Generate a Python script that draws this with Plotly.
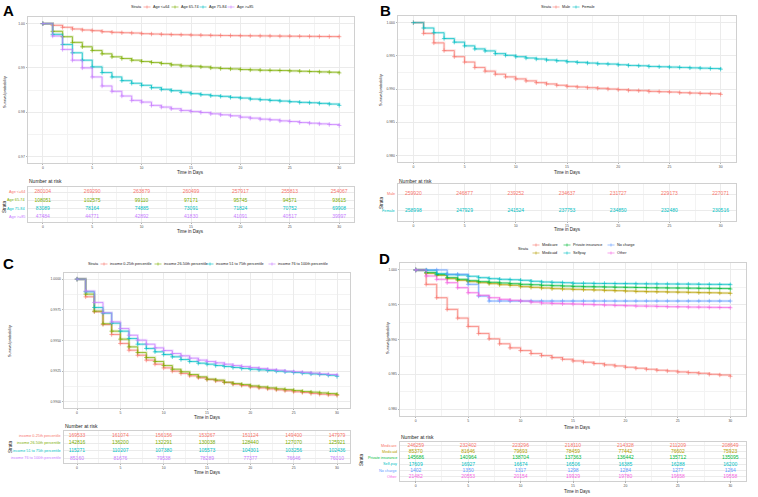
import plotly.graph_objects as go

W, H = 758, 497
days = list(range(31))
risk_days = [0, 5, 10, 15, 20, 25, 30]

# ---------------- Panel A : age ----------------
a_labels = ["Age <=64", "Age 65-74", "Age 75-84", "Age >=85"]
a_le64 = [1.0, 0.99962, 0.99917, 0.99879, 0.99856, 0.99841, 0.99818, 0.99803, 0.99795, 0.99788, 0.99773,
          0.99765, 0.99758, 0.99752, 0.99748, 0.99742, 0.99739, 0.99735, 0.99732, 0.99730, 0.99727,
          0.99725, 0.99723, 0.99720, 0.99718, 0.99716, 0.99714, 0.99712, 0.99710, 0.99708, 0.99705]
a_65_74 = [1.0, 0.99826, 0.99705, 0.99576, 0.99477, 0.99394, 0.99318, 0.99250, 0.99212, 0.99174, 0.99144,
           0.99121, 0.99098, 0.99068, 0.99045, 0.99038, 0.99023, 0.99000, 0.98985, 0.98977, 0.98962,
           0.98955, 0.98947, 0.98944, 0.98940, 0.98932, 0.98924, 0.98917, 0.98909, 0.98902, 0.98886]
a_75_84 = [1.0, 0.99758, 0.99530, 0.99341, 0.99174, 0.99023, 0.98894, 0.98795, 0.98712, 0.98652, 0.98606,
           0.98553, 0.98515, 0.98485, 0.98447, 0.98417, 0.98394, 0.98371, 0.98356, 0.98333, 0.98318,
           0.98295, 0.98280, 0.98265, 0.98250, 0.98235, 0.98220, 0.98212, 0.98197, 0.98182, 0.98152]
a_ge85 = [1.0, 0.99720, 0.99417, 0.99174, 0.99000, 0.98795, 0.98591, 0.98470, 0.98364, 0.98265, 0.98227,
          0.98152, 0.98114, 0.98076, 0.98038, 0.98015, 0.97992, 0.97962, 0.97939, 0.97917, 0.97886,
          0.97864, 0.97841, 0.97826, 0.97803, 0.97788, 0.97765, 0.97750, 0.97735, 0.97720, 0.97697]
a_risk_le64 = [280104, 269290, 263879, 260499, 257917, 255813, 254067]
a_risk_65_74 = [108051, 102575, 99110, 97171, 95745, 94571, 93615]
a_risk_75_84 = [83089, 78164, 74885, 73091, 71824, 70752, 69908]
a_risk_ge85 = [47484, 44771, 42892, 41830, 41091, 40517, 39997]
a_yticks = [0.97, 0.98, 0.99, 1.00]
a_yticktext = ["0.97", "0.98", "0.99", "1.00"]

# ---------------- Panel B : sex ----------------
b_labels = ["Male", "Female"]
b_male = [1.0, 0.99838, 0.99695, 0.99579, 0.99487, 0.99406, 0.99325, 0.99269, 0.99223, 0.99183, 0.99152,
          0.99122, 0.99096, 0.99076, 0.99056, 0.99040, 0.99030, 0.99020, 0.99010, 0.99000, 0.98990,
          0.98980, 0.98975, 0.98964, 0.98959, 0.98954, 0.98944, 0.98939, 0.98934, 0.98929, 0.98919]
b_female = [1.0, 0.99919, 0.99848, 0.99761, 0.99706, 0.99650, 0.99604, 0.99574, 0.99533, 0.99508, 0.99487,
            0.99467, 0.99452, 0.99437, 0.99426, 0.99411, 0.99401, 0.99391, 0.99380, 0.99376, 0.99365,
            0.99355, 0.99350, 0.99340, 0.99335, 0.99330, 0.99325, 0.99319, 0.99314, 0.99309, 0.99299]
b_risk_male = [259920, 246877, 239252, 234637, 231727, 229173, 227071]
b_risk_female = [258998, 247929, 241524, 237753, 234850, 232480, 230516]
b_yticks = [0.980, 0.985, 0.990, 0.995, 1.000]
b_yticktext = ["0.980", "0.985", "0.990", "0.995", "1.000"]

# ---------------- Panel C : income ----------------
c_labels = ["income 0-25th percentile", "income 26-50th percentile",
            "income 51 to 75th percentile", "income 76 to 100th percentile"]
c_q1 = [1.0, 0.99856, 0.99734, 0.99630, 0.99549, 0.99476, 0.99421, 0.99380, 0.99340, 0.99307, 0.99277,
        0.99250, 0.99231, 0.99212, 0.99196, 0.99182, 0.99171, 0.99158, 0.99144, 0.99133, 0.99122,
        0.99114, 0.99106, 0.99098, 0.99090, 0.99082, 0.99076, 0.99068, 0.99062, 0.99057, 0.99052]
c_q2 = [1.0, 0.99878, 0.99739, 0.99636, 0.99576, 0.99511, 0.99448, 0.99402, 0.99361, 0.99329, 0.99296,
        0.99266, 0.99245, 0.99223, 0.99204, 0.99185, 0.99177, 0.99160, 0.99149, 0.99141, 0.99130,
        0.99122, 0.99114, 0.99106, 0.99100, 0.99092, 0.99084, 0.99079, 0.99073, 0.99068, 0.99060]
c_q3 = [1.0, 0.99897, 0.99769, 0.99723, 0.99641, 0.99576, 0.99516, 0.99470, 0.99435, 0.99408, 0.99386,
        0.99367, 0.99345, 0.99329, 0.99315, 0.99307, 0.99296, 0.99288, 0.99280, 0.99272, 0.99266,
        0.99261, 0.99255, 0.99250, 0.99245, 0.99239, 0.99234, 0.99228, 0.99223, 0.99217, 0.99207]
c_q4 = [1.0, 0.99902, 0.99810, 0.99726, 0.99652, 0.99598, 0.99543, 0.99503, 0.99470, 0.99440, 0.99418,
        0.99394, 0.99375, 0.99356, 0.99340, 0.99329, 0.99318, 0.99307, 0.99296, 0.99288, 0.99280,
        0.99272, 0.99264, 0.99258, 0.99250, 0.99245, 0.99240, 0.99234, 0.99228, 0.99223, 0.99217]
c_risk_q1 = [169533, 161074, 156156, 153267, 151124, 149400, 147979]
c_risk_q2 = [142816, 136200, 132291, 130038, 128440, 127070, 125921]
c_risk_q3 = [115271, 110207, 107380, 105573, 104301, 103256, 102436]
c_risk_q4 = [85160, 81676, 79538, 78289, 77377, 76646, 76010]
c_yticks = [0.9900, 0.9925, 0.9950, 0.9975, 1.0000]
c_yticktext = ["0.9900", "0.9925", "0.9950", "0.9975", "1.0000"]

# ---------------- Panel D : payer ----------------
d_labels = ["Medicare", "Medicaid", "Private insurance", "Selfpay", "No charge", "Other"]
d_table_labels = ["Medicare", "Medicaid", "Private insurance", "Self-pay", "No charge", "Other"]
d_medicare = [1.0, 0.99793, 0.99601, 0.99433, 0.99308, 0.99188, 0.99087, 0.99010, 0.98938, 0.98880, 0.98841,
              0.98798, 0.98769, 0.98740, 0.98716, 0.98692, 0.98673, 0.98654, 0.98635, 0.98620, 0.98601,
              0.98587, 0.98572, 0.98558, 0.98548, 0.98534, 0.98524, 0.98514, 0.98500, 0.98490, 0.98471]
d_medicaid = [1.0, 0.99952, 0.99923, 0.99875, 0.99851, 0.99832, 0.99817, 0.99803, 0.99788, 0.99779, 0.99760,
              0.99750, 0.99740, 0.99731, 0.99726, 0.99721, 0.99716, 0.99712, 0.99707, 0.99702, 0.99697,
              0.99692, 0.99688, 0.99686, 0.99683, 0.99681, 0.99678, 0.99674, 0.99672, 0.99668, 0.99663]
d_private = [1.0, 0.99962, 0.99933, 0.99889, 0.99865, 0.99846, 0.99832, 0.99822, 0.99813, 0.99803, 0.99793,
             0.99788, 0.99779, 0.99774, 0.99769, 0.99764, 0.99760, 0.99758, 0.99755, 0.99752, 0.99750,
             0.99748, 0.99745, 0.99743, 0.99741, 0.99740, 0.99738, 0.99736, 0.99735, 0.99733, 0.99726]
d_selfpay = [1.0, 0.99995, 0.99947, 0.99933, 0.99928, 0.99909, 0.99889, 0.99875, 0.99865, 0.99860, 0.99851,
             0.99837, 0.99827, 0.99822, 0.99817, 0.99808, 0.99808, 0.99806, 0.99806, 0.99804, 0.99803,
             0.99801, 0.99800, 0.99799, 0.99798, 0.99797, 0.99796, 0.99794, 0.99793, 0.99792, 0.99788]
d_nocharge = [1.0, 1.0, 1.0, 0.99938, 0.99938, 0.99793, 0.99625, 0.99553, 0.99553, 0.99553, 0.99553,
              0.99553, 0.99553, 0.99553, 0.99553, 0.99553, 0.99553, 0.99553, 0.99553, 0.99553, 0.99553,
              0.99553, 0.99553, 0.99553, 0.99553, 0.99553, 0.99553, 0.99553, 0.99553, 0.99553, 0.99553]
d_other = [1.0, 0.99913, 0.99865, 0.99817, 0.99745, 0.99673, 0.99635, 0.99601, 0.99577, 0.99563, 0.99553,
           0.99538, 0.99524, 0.99519, 0.99514, 0.99510, 0.99505, 0.99500, 0.99495, 0.99490, 0.99486,
           0.99481, 0.99480, 0.99476, 0.99471, 0.99470, 0.99466, 0.99465, 0.99462, 0.99461, 0.99457]
d_risk_medicare = [246259, 232402, 223296, 218110, 214328, 211209, 208649]
d_risk_medicaid = [85370, 81646, 79693, 78459, 77442, 76602, 75923]
d_risk_private = [145686, 140964, 138704, 137363, 136442, 135712, 135095]
d_risk_selfpay = [17609, 16927, 16674, 16506, 16385, 16288, 16200]
d_risk_nocharge = [1402, 1350, 1317, 1298, 1284, 1277, 1264]
d_risk_other = [21482, 20553, 20154, 19929, 19780, 19658, 19558]
d_yticks = [0.980, 0.985, 0.990, 0.995, 1.000]
d_yticktext = ["0.980", "0.985", "0.990", "0.995", "1.000"]

PAL4 = ["#F8766D", "#7CAE00", "#00BFC4", "#C77CFF"]
PAL2 = ["#F8766D", "#00BFC4"]
PAL6 = ["#F8766D", "#B79F00", "#00BA38", "#00BFC4", "#619CFF", "#F564E3"]

FONT = "Liberation Sans, Arial, sans-serif"
GRID = "#EBEBEB"
MINOR = "#F3F3F3"
BORDER = "#D0D0D0"
TICKC = "#4D4D4D"


def rgba(hexc, a):
    h = hexc.lstrip("#")
    return "rgba(%d,%d,%d,%.2f)" % (int(h[0:2], 16), int(h[2:4], 16), int(h[4:6], 16), a)


fig = go.Figure()
layout = {}
shapes = []
annotations = []


def ref(n, axis):
    return axis if n == 1 else f"{axis}{n}"


def lname(n, axis):
    return f"{axis}axis" if n == 1 else f"{axis}axis{n}"


def text(x, y, s, size, color="#000000", xanchor="center", yanchor="middle", angle=0, bold=False):
    annotations.append(dict(x=x / W, y=1 - y / H, xref="paper", yref="paper", text=("<b>%s</b>" % s) if bold else s,
                            showarrow=False, xanchor=xanchor, yanchor=yanchor, textangle=angle,
                            borderpad=0, font=dict(size=size, color=color, family=FONT)))


def legend_entry(xc, yc, color, label, size=3.8):
    shapes.append(dict(type="line", xref="paper", yref="paper", x0=(xc - 3.5) / W, x1=(xc + 3.5) / W,
                       y0=1 - yc / H, y1=1 - yc / H, line=dict(color=color, width=0.6)))
    shapes.append(dict(type="line", xref="paper", yref="paper", x0=xc / W, x1=xc / W,
                       y0=1 - (yc - 1.5) / H, y1=1 - (yc + 1.5) / H, line=dict(color=color, width=0.6)))
    text(xc + 5, yc, label, size, color="#1A1A1A", xanchor="left")


def x_axis(dom, anchor_n):
    return dict(domain=[dom[0] / W, dom[1] / W], anchor=ref(anchor_n, "y"), range=[-1.5, 31.5],
                tickmode="array", tickvals=risk_days, ticktext=[str(v) for v in risk_days],
                showgrid=True, gridcolor=GRID, gridwidth=0.8,
                minor=dict(tickmode="array", tickvals=[2.5, 7.5, 12.5, 17.5, 22.5, 27.5],
                           showgrid=True, gridcolor=MINOR, gridwidth=0.6, ticks=""),
                ticks="outside", ticklen=1.5, tickwidth=0.6, tickcolor="#B3B3B3",
                tickfont=dict(size=3.4, color=TICKC, family=FONT),
                showline=True, mirror=True, linecolor=BORDER, linewidth=0.8, zeroline=False)


def add_panel(k, plot_box, table_box, series, labels, colors, yrange, yticks, yticktext, risk, row_labels,
              label_right):
    pn, tn = 2 * k + 1, 2 * k + 2
    layout[lname(pn, "x")] = x_axis(plot_box[0], pn)
    minor_y = [(yticks[i] + yticks[i + 1]) / 2 for i in range(len(yticks) - 1)]
    layout[lname(pn, "y")] = dict(domain=[1 - plot_box[1][1] / H, 1 - plot_box[1][0] / H], anchor=ref(pn, "x"),
                                  range=yrange, tickmode="array", tickvals=yticks, ticktext=yticktext,
                                  showgrid=True, gridcolor=GRID, gridwidth=0.8,
                                  minor=dict(tickmode="array", tickvals=minor_y, showgrid=True,
                                             gridcolor=MINOR, gridwidth=0.6, ticks=""),
                                  ticks="outside", ticklen=1.5, tickwidth=0.6, tickcolor="#B3B3B3",
                                  tickfont=dict(size=3.4, color=TICKC, family=FONT),
                                  showline=True, mirror=True, linecolor=BORDER, linewidth=0.8, zeroline=False)
    for s, lab, c in zip(series, labels, colors):
        fig.add_trace(go.Scatter(x=days, y=s, mode="lines", line=dict(color=rgba(c, 0.22), width=2.6, shape="hv"),
                                 xaxis=ref(pn, "x"), yaxis=ref(pn, "y"), showlegend=False, hoverinfo="skip"))
    for s, lab, c in zip(series, labels, colors):
        fig.add_trace(go.Scatter(x=days, y=s, mode="lines+markers", name=lab,
                                 line=dict(color=c, width=0.7, shape="hv"),
                                 marker=dict(symbol="cross-thin", size=3.2, line=dict(color=c, width=0.6)),
                                 xaxis=ref(pn, "x"), yaxis=ref(pn, "y"), showlegend=False))
    n = len(risk)
    rows = list(range(1, n + 1))
    layout[lname(tn, "x")] = x_axis(table_box[0], tn)
    layout[lname(tn, "y")] = dict(domain=[1 - table_box[1][1] / H, 1 - table_box[1][0] / H], anchor=ref(tn, "x"),
                                  range=[n + 0.6, 0.4], tickmode="array", tickvals=rows, showticklabels=False,
                                  showgrid=True, gridcolor=GRID, gridwidth=0.8, ticks="",
                                  showline=True, mirror=True, linecolor=BORDER, linewidth=0.8, zeroline=False)
    for r, vals, c, lab in zip(rows, risk, colors, row_labels):
        fig.add_trace(go.Scatter(x=risk_days, y=[r] * len(vals), mode="text", text=[str(v) for v in vals],
                                 textfont=dict(color=c, size=5, family=FONT), cliponaxis=False,
                                 xaxis=ref(tn, "x"), yaxis=ref(tn, "y"), showlegend=False, hoverinfo="skip"))
        annotations.append(dict(x=label_right / W, xref="paper", y=r, yref=ref(tn, "y"), text=lab,
                                showarrow=False, xanchor="right", yanchor="middle", borderpad=0,
                                font=dict(size=3.8, color=c, family=FONT)))


add_panel(0, ((28, 354), (17, 163)), ((28, 354), (187, 222)), [a_le64, a_65_74, a_75_84, a_ge85], a_labels,
          PAL4, [0.9685, 1.0015], a_yticks, a_yticktext,
          [a_risk_le64, a_risk_65_74, a_risk_75_84, a_risk_ge85], a_labels, 25.5)
add_panel(1, ((398, 736), (16, 162)), ((398, 736), (184, 221)), [b_male, b_female], b_labels,
          PAL2, [0.979, 1.001], b_yticks, b_yticktext, [b_risk_male, b_risk_female], b_labels, 396)
add_panel(2, ((64, 350), (273, 408)), ((64, 350), (431, 463)), [c_q1, c_q2, c_q3, c_q4], c_labels,
          PAL4, [0.9895, 1.0005], c_yticks, c_yticktext, [c_risk_q1, c_risk_q2, c_risk_q3, c_risk_q4],
          c_labels, 62)
add_panel(3, ((400, 746), (263, 416)), ((400, 746), (442, 480.5)),
          [d_medicare, d_medicaid, d_private, d_selfpay, d_nocharge, d_other], d_labels,
          PAL6, [0.979, 1.001], d_yticks, d_yticktext,
          [d_risk_medicare, d_risk_medicaid, d_risk_private, d_risk_selfpay, d_risk_nocharge, d_risk_other],
          d_table_labels, 397.5)

# panel letters
text(2, 10, "A", 15, xanchor="left", bold=True)
text(379, 10, "B", 15, xanchor="left", bold=True)
text(2, 263, "C", 15, xanchor="left", bold=True)
text(378, 258.5, "D", 15, xanchor="left", bold=True)

# axis titles
for (x, y) in [(5, 92), (381, 90), (10, 341), (388, 338)]:
    text(x, y, "Survival probability", 3.8, color="#1A1A1A", angle=-90)
for (x, y) in [(190, 172), (567, 172), (207, 417), (577, 427), (190, 231), (567, 230), (207, 472), (577, 491)]:
    text(x, y, "Time in Days", 4.5, color="#1A1A1A")
for (x, y) in [(28, 181), (398, 181), (64, 426), (400, 437)]:
    text(x, y, "Number at risk", 5, color="#1A1A1A", xanchor="left")
for (x, y) in [(5, 207), (381, 203), (10, 447), (361, 460)]:
    text(x, y, "Strata", 4.5, color="#1A1A1A", angle=-90)

# legends
text(130, 7, "Strata", 3.8, color="#1A1A1A", xanchor="left")
for xc, c, lab in zip([147, 175, 203, 231], PAL4, a_labels):
    legend_entry(xc, 7, c, lab)
text(540, 7, "Strata", 3.8, color="#1A1A1A", xanchor="left")
for xc, c, lab in zip([556, 576], PAL2, b_labels):
    legend_entry(xc, 7, c, lab)
text(87, 264, "Strata", 3.8, color="#1A1A1A", xanchor="left")
for xc, c, lab in zip([104, 158, 210, 272], PAL4, c_labels):
    legend_entry(xc, 264, c, lab)
text(517, 249, "Strata", 3.8, color="#1A1A1A", xanchor="left")
d_leg_pos = [(536, 245), (536, 253), (567, 245), (567, 253), (611, 245), (611, 253)]
for (xc, yc), c, lab in zip(d_leg_pos, PAL6, d_labels):
    legend_entry(xc, yc, c, lab)

layout.update(dict(width=W, height=H, margin=dict(l=0, r=0, t=0, b=0), paper_bgcolor="white",
                   plot_bgcolor="white", showlegend=False, shapes=shapes, annotations=annotations,
                   font=dict(family=FONT)))
fig.update_layout(**layout)
fig.write_html("out.html", config={"displayModeBar": False},
               post_script="document.body.style.margin='0px';document.body.style.padding='0px';")
